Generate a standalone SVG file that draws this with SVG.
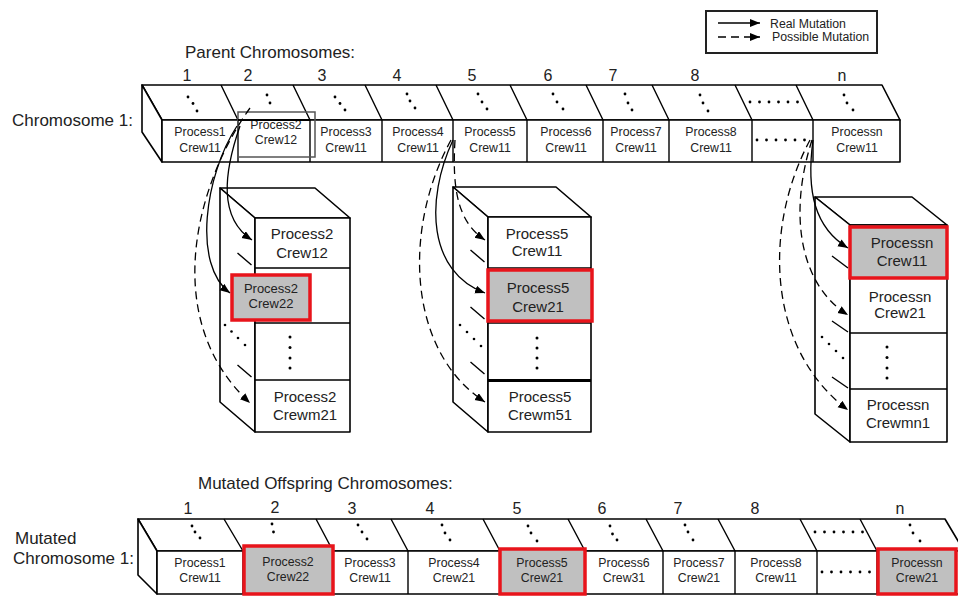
<svg xmlns="http://www.w3.org/2000/svg" width="958" height="597" viewBox="0 0 958 597">
<defs>
<marker id="ah" markerUnits="userSpaceOnUse" markerWidth="11" markerHeight="9" refX="10" refY="4" orient="auto"><path d="M0,0 L10,4 L0,8 z" fill="#000"/></marker>
<style>
.f{fill:#fff;stroke:#000;stroke-width:1.6;stroke-linejoin:round}
.l{stroke:#000;stroke-width:1.4;fill:none}
.hl{fill:#c0c0c0;stroke:#e8141b;stroke-width:3.5}
.d{fill:#000}
.t{font-family:"Liberation Sans",Arial,sans-serif;fill:#222;text-anchor:middle}
.s{font-size:12.3px}
.m{font-size:15px}
.n{font-size:16px}
.lab{font-family:"Liberation Sans",Arial,sans-serif;fill:#222;font-size:17px}
.c{fill:none;stroke:#000;stroke-width:1.3;marker-end:url(#ah)}
.dash{stroke-dasharray:8 5}
</style>
</defs>
<rect width="958" height="597" fill="#fff"/>

<g id="legend">
<rect x="706" y="11" width="171" height="42" fill="#fff" stroke="#222" stroke-width="2"/>
<line x1="718" y1="23" x2="760" y2="23" class="c"/>
<line x1="718" y1="37" x2="760" y2="37" class="c dash"/>
<text x="770" y="27.5" class="lab" style="font-size:12.3px">Real Mutation</text>
<text x="772" y="41" class="lab" style="font-size:12.3px">Possible Mutation</text>
</g>

<g id="labels">
<text x="185" y="58" class="lab">Parent Chromosomes:</text>
<text x="12" y="126" class="lab">Chromosome 1:</text>
<text x="198" y="489" class="lab">Mutated Offspring Chromosomes:</text>
<text x="15" y="544" class="lab">Mutated</text>
<text x="13" y="564" class="lab">Chromosome 1:</text>
</g>

<!-- Parent chromosome -->
<g id="chromosome1">
<polygon class="f" points="142,85 882,85 900,120 162,120"/>
<polygon class="f" points="142,85 162,120 162,162 142,132"/>
<rect class="f" x="162" y="120" width="738" height="42"/>
<g class="l">
<path d="M221,85L238,120M293,85L310,120M365,85L382,120M436,85L453,120M510,85L527,120M586,85L603,120M652,85L669,120M735,85L752,120M796,85L813,120"/>
<path d="M238,120V162M310,120V162M382,120V162M453,120V162M527,120V162M603,120V162M669,120V162M752,120V162M813,120V162"/>
</g>
<g class="t n">
<text x="187" y="81">1</text><text x="248" y="81">2</text><text x="322" y="81">3</text><text x="397" y="81">4</text><text x="472" y="81">5</text><text x="548" y="81">6</text><text x="613" y="81">7</text><text x="695" y="81">8</text><text x="842" y="81">n</text>
</g>
<g class="d">
<circle cx="188" cy="97" r="1.4"/><circle cx="193" cy="103.5" r="1.4"/><circle cx="197" cy="111" r="1.4"/>
<circle cx="267" cy="95" r="1.4"/><circle cx="270" cy="103" r="1.4"/>
<circle cx="335" cy="97" r="1.4"/><circle cx="340" cy="103.5" r="1.4"/><circle cx="345" cy="110" r="1.4"/>
<circle cx="407" cy="94" r="1.4"/><circle cx="410" cy="101" r="1.4"/><circle cx="415" cy="108" r="1.4"/>
<circle cx="478" cy="94" r="1.4"/><circle cx="482" cy="102" r="1.4"/><circle cx="487" cy="109" r="1.4"/>
<circle cx="553" cy="94" r="1.4"/><circle cx="557" cy="102" r="1.4"/><circle cx="563" cy="109" r="1.4"/>
<circle cx="625" cy="94" r="1.4"/><circle cx="628" cy="103" r="1.4"/><circle cx="632" cy="110" r="1.4"/>
<circle cx="700" cy="95" r="1.4"/><circle cx="703" cy="103" r="1.4"/><circle cx="708" cy="111" r="1.4"/>
<circle cx="750" cy="102" r="1.4"/><circle cx="759.5" cy="102" r="1.4"/><circle cx="769" cy="102" r="1.4"/><circle cx="778.5" cy="102" r="1.4"/><circle cx="788" cy="102" r="1.4"/><circle cx="797.5" cy="102" r="1.4"/>
<circle cx="844" cy="95" r="1.4"/><circle cx="847" cy="103" r="1.4"/><circle cx="853" cy="110" r="1.4"/>
</g>
</g>
<g id="p1"><text class="t s" x="200" y="136">Process1</text><text class="t s" x="200" y="152">Crew11</text></g>
<g id="p2"><rect x="238" y="112" width="77" height="45" fill="none" stroke="#555" stroke-width="1.5"/><text class="t s" x="276" y="128.5">Process2</text><text class="t s" x="276" y="144">Crew12</text><line x1="238" y1="120" x2="310" y2="120" stroke="#000" stroke-width="1.8"/></g>
<g id="p3"><text class="t s" x="346" y="136">Process3</text><text class="t s" x="346" y="152">Crew11</text></g>
<g id="p4"><text class="t s" x="418" y="136">Process4</text><text class="t s" x="418" y="152">Crew11</text></g>
<g id="p5"><text class="t s" x="490" y="136">Process5</text><text class="t s" x="490" y="152">Crew11</text></g>
<g id="p6"><text class="t s" x="566" y="136">Process6</text><text class="t s" x="566" y="152">Crew11</text></g>
<g id="p7"><text class="t s" x="636" y="136">Process7</text><text class="t s" x="636" y="152">Crew11</text></g>
<g id="p8"><text class="t s" x="711" y="136">Process8</text><text class="t s" x="711" y="152">Crew11</text></g>
<g id="pdots" class="d"><circle cx="757" cy="140" r="1.4"/><circle cx="766.5" cy="140" r="1.4"/><circle cx="776" cy="140" r="1.4"/><circle cx="785.5" cy="140" r="1.4"/><circle cx="795" cy="140" r="1.4"/><circle cx="804.5" cy="140" r="1.4"/></g>
<g id="pn"><text class="t s" x="857" y="136">Processn</text><text class="t s" x="857" y="152">Crew11</text></g>

<!-- Stack for process 2 -->
<g id="stack2">
<polygon class="f" points="220,188 315,188 350,218 255,218"/>
<polygon class="f" points="220,188 255,218 255,432 220,402"/>
<rect class="f" x="255" y="218" width="95" height="214"/>
<path class="l" d="M255,268H350M255,323H350M255,380H350"/>
<path class="l" d="M237.5,253L251.5,265M237.5,308L251.5,320M237.5,365L251.5,377"/>
<g class="d"><circle cx="225" cy="325" r="1.3"/><circle cx="231.5" cy="331.5" r="1.3"/><circle cx="238" cy="338" r="1.3"/><circle cx="245" cy="345" r="1.3"/></g>
<text class="t m" x="302" y="238.5">Process2</text><text class="t m" x="302" y="257.5">Crew12</text>
<g class="d"><circle cx="290" cy="337" r="1.5"/><circle cx="290" cy="347.5" r="1.5"/><circle cx="290" cy="358" r="1.5"/><circle cx="290" cy="368" r="1.5"/></g>
<text class="t m" x="305" y="402">Process2</text><text class="t m" x="305" y="420">Crewm21</text>
</g>
<g id="p2c22"><rect class="hl" x="232" y="275" width="78" height="45"/><text class="t" style="font-size:13px" x="271" y="293">Process2</text><text class="t" style="font-size:13px" x="271" y="308">Crew22</text></g>

<!-- Stack for process 5 -->
<g id="stack5">
<polygon class="f" points="453,187 556,187 591,217 488,217"/>
<polygon class="f" points="453,187 488,217 488,432 453,402"/>
<rect class="f" x="488" y="217" width="103" height="215"/>
<path class="l" d="M488,268H591M488,323H591"/>
<path d="M488,380.5H591" stroke="#000" stroke-width="3.2"/>
<path class="l" d="M470.5,250L484.5,262M470.5,307L484.5,319M470.5,362L484.5,374"/>
<g class="d"><circle cx="460" cy="325" r="1.3"/><circle cx="467" cy="332" r="1.3"/><circle cx="474" cy="339" r="1.3"/><circle cx="481" cy="346" r="1.3"/></g>
<text class="t m" x="537" y="238.5">Process5</text><text class="t m" x="537" y="255.5">Crew11</text>
<g class="d"><circle cx="537" cy="338" r="1.5"/><circle cx="537" cy="348" r="1.5"/><circle cx="537" cy="358" r="1.5"/><circle cx="537" cy="368" r="1.5"/></g>
<text class="t m" x="540" y="402">Process5</text><text class="t m" x="540" y="420">Crewm51</text>
</g>
<g id="p5c21"><rect class="hl" x="488" y="270" width="104" height="51"/><text class="t m" x="538" y="293">Process5</text><text class="t m" x="538" y="312">Crew21</text></g>

<!-- Stack for process n -->
<g id="stackn">
<polygon class="f" points="815,197 912,197 947,225 850,225"/>
<polygon class="f" points="815,197 850,225 850,442 815,414"/>
<rect class="f" x="850" y="225" width="97" height="217"/>
<path class="l" d="M850,278H947M850,333H947M850,389H947"/>
<path class="l" d="M832,256L848,268M832,321L848,332M832,377L848,388"/>
<g class="d"><circle cx="822" cy="337" r="1.3"/><circle cx="829" cy="344" r="1.3"/><circle cx="836" cy="351" r="1.3"/><circle cx="843" cy="358" r="1.3"/></g>
<text class="t m" x="900" y="302">Processn</text><text class="t m" x="900" y="318">Crew21</text>
<g class="d"><circle cx="887" cy="347" r="1.5"/><circle cx="887" cy="357.5" r="1.5"/><circle cx="887" cy="368" r="1.5"/><circle cx="887" cy="378" r="1.5"/></g>
<text class="t m" x="898" y="410">Processn</text><text class="t m" x="898" y="428">Crewmn1</text>
</g>
<g id="pnc11"><rect class="hl" x="850" y="227" width="97" height="51"/><text class="t m" x="902" y="248">Processn</text><text class="t m" x="902" y="265.5">Crew11</text></g>

<!-- Connectors -->
<g id="connectors">
<path class="c" d="M240,126 C224,172 218,218 252,240"/>
<path class="c" d="M237,126 C205,175 192,265 230,293"/>
<path class="c dash" d="M250,108 C195,185 160,320 250,403"/>
<path class="c dash" d="M455,140 C452,190 458,222 485,240"/>
<path class="c" d="M453,140 C425,200 428,272 485,293"/>
<path class="c dash" d="M451,140 C402,230 408,352 485,402"/>
<path class="c" d="M813,140 C806,192 815,228 848,248"/>
<path class="c dash" d="M812,140 C788,215 800,285 848,315"/>
<path class="c dash" d="M810,140 C762,230 768,350 848,410"/>
</g>

<!-- Mutated offspring chromosome -->
<g id="mutated1">
<polygon class="f" points="138,519 945,519 964,551 157,551"/>
<polygon class="f" points="138,519 157,551 157,594 138,575"/>
<rect class="f" x="157" y="551" width="810" height="43"/>
<g class="l">
<path d="M224,519L243,551M316,519L333,551M391,519L408,551M483,519L500,551M568,519L585,551M646,519L663,551M718,519L735,551M800,519L817,551M860,519L877,551"/>
<path d="M243,551V594M333,551V594M408,551V594M500,551V594M585,551V594M663,551V594M735,551V594M817,551V594M877,551V594"/>
</g>
<g class="t n">
<text x="188" y="514">1</text><text x="275" y="513">2</text><text x="352" y="514">3</text><text x="430" y="514">4</text><text x="517" y="514">5</text><text x="602" y="514">6</text><text x="678" y="514">7</text><text x="755" y="514">8</text><text x="900" y="514">n</text>
</g>
<g class="d">
<circle cx="192" cy="526" r="1.4"/><circle cx="195" cy="532" r="1.4"/><circle cx="200" cy="538" r="1.4"/>
<circle cx="272" cy="524" r="1.4"/><circle cx="273.5" cy="532" r="1.4"/>
<circle cx="358" cy="525" r="1.4"/><circle cx="362" cy="532" r="1.4"/><circle cx="367" cy="539" r="1.4"/>
<circle cx="442" cy="525" r="1.4"/><circle cx="445" cy="533" r="1.4"/><circle cx="450" cy="540" r="1.4"/>
<circle cx="528" cy="526" r="1.4"/><circle cx="531" cy="533" r="1.4"/><circle cx="537" cy="541" r="1.4"/>
<circle cx="610" cy="526" r="1.4"/><circle cx="612.5" cy="534" r="1.4"/><circle cx="617" cy="540" r="1.4"/>
<circle cx="685" cy="525" r="1.4"/><circle cx="688" cy="532" r="1.4"/><circle cx="693" cy="540" r="1.4"/>
<circle cx="815" cy="532" r="1.4"/><circle cx="824.5" cy="532" r="1.4"/><circle cx="834" cy="532" r="1.4"/><circle cx="843.5" cy="532" r="1.4"/><circle cx="853" cy="532" r="1.4"/><circle cx="862.5" cy="532" r="1.4"/>
<circle cx="910" cy="525" r="1.4"/><circle cx="913" cy="533" r="1.4"/><circle cx="920" cy="541" r="1.4"/>
</g>
</g>
<g id="m1"><text class="t s" x="200" y="567">Process1</text><text class="t s" x="200" y="582">Crew11</text></g>
<g id="m2"><rect class="hl" x="244" y="546" width="89" height="48"/><text class="t s" x="288" y="566">Process2</text><text class="t s" x="288" y="581">Crew22</text></g>
<g id="m3"><text class="t s" x="370" y="567">Process3</text><text class="t s" x="370" y="582">Crew11</text></g>
<g id="m4"><text class="t s" x="454" y="567">Process4</text><text class="t s" x="454" y="582">Crew21</text></g>
<g id="m5"><rect class="hl" x="500" y="549" width="85" height="45"/><text class="t s" x="542" y="567">Process5</text><text class="t s" x="542" y="582">Crew21</text></g>
<g id="m6"><text class="t s" x="624" y="567">Process6</text><text class="t s" x="624" y="582">Crew31</text></g>
<g id="m7"><text class="t s" x="699" y="567">Process7</text><text class="t s" x="699" y="582">Crew21</text></g>
<g id="m8"><text class="t s" x="776" y="567">Process8</text><text class="t s" x="776" y="582">Crew11</text></g>
<g id="mdots" class="d"><circle cx="822" cy="572" r="1.4"/><circle cx="831.5" cy="572" r="1.4"/><circle cx="841" cy="572" r="1.4"/><circle cx="850.5" cy="572" r="1.4"/><circle cx="860" cy="572" r="1.4"/><circle cx="869.5" cy="572" r="1.4"/></g>
<g id="mn"><rect class="hl" x="878" y="549" width="78" height="45"/><text class="t s" x="917" y="567">Processn</text><text class="t s" x="917" y="582">Crew21</text></g>
</svg>
